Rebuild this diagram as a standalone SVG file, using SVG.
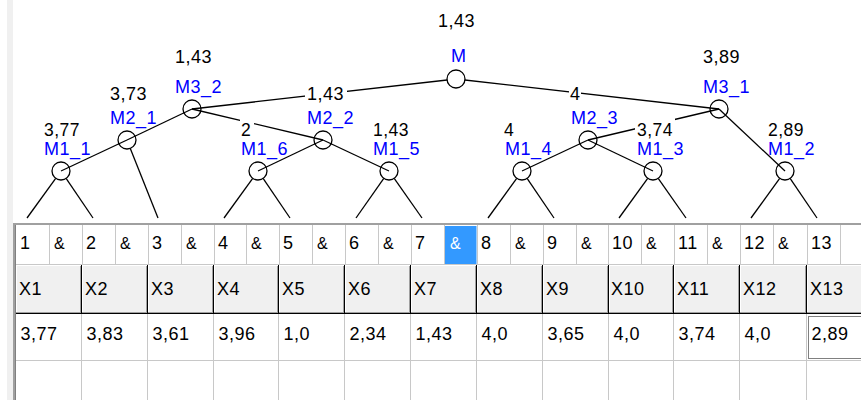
<svg xmlns="http://www.w3.org/2000/svg" width="861" height="400" viewBox="0 0 861 400">
  <style>
    .t { font-family: "Liberation Sans", Arial, sans-serif; font-size: 18px; letter-spacing: 0.5px; fill: #000; }
    .v1 { font-size: 17.5px; }
    .n { fill: #0000ff; }
    .amp { font-size: 16px; }
    .e { stroke: #000; stroke-width: 1.3; fill: none; }
    .c { stroke: #000; stroke-width: 1.3; fill: none; }
    .g { stroke: #c8c8c8; stroke-width: 1; fill: none; }
    .hd { stroke: #000; stroke-width: 1; }
    .hg { stroke: #a0a0a0; stroke-width: 1; }
    .hw { stroke: #fff; stroke-width: 1; }
  </style>
  <rect width="861" height="400" fill="#fff"/>
  <!-- left panel strip -->
  <rect x="7" y="0" width="6" height="400" fill="#f0f0f0"/>

  <!-- tree connectors -->
  <g id="connectors">
    <line class="e" x1="192" y1="109" x2="456" y2="79"/>
    <line class="e" x1="719" y1="109" x2="456" y2="79"/>
    <line class="e" x1="192" y1="109" x2="127" y2="140"/>
    <line class="e" x1="192" y1="109" x2="323" y2="140"/>
    <line class="e" x1="127" y1="140" x2="61" y2="171"/>
    <line class="e" x1="323" y1="140" x2="258" y2="171"/>
    <line class="e" x1="323" y1="140" x2="389" y2="171"/>
    <line class="e" x1="719" y1="109" x2="588" y2="140"/>
    <line class="e" x1="719" y1="109" x2="785" y2="171"/>
    <line class="e" x1="588" y1="140" x2="522" y2="171"/>
    <line class="e" x1="588" y1="140" x2="653" y2="171"/>
    <!-- leaf branches -->
    <line class="e" x1="55.7" y1="178.3" x2="27" y2="218"/>
    <line class="e" x1="66.1" y1="178.4" x2="93" y2="218"/>
    <line class="e" x1="130.3" y1="148.4" x2="158" y2="218"/>
    <line class="e" x1="252.7" y1="178.3" x2="224" y2="218"/>
    <line class="e" x1="263.1" y1="178.4" x2="290" y2="218"/>
    <line class="e" x1="383.8" y1="178.4" x2="356" y2="218"/>
    <line class="e" x1="394.2" y1="178.4" x2="422" y2="218"/>
    <line class="e" x1="516.7" y1="178.3" x2="488" y2="218"/>
    <line class="e" x1="527.1" y1="178.4" x2="554" y2="218"/>
    <line class="e" x1="647.7" y1="178.3" x2="619" y2="218"/>
    <line class="e" x1="658.2" y1="178.4" x2="686" y2="218"/>
    <line class="e" x1="779.7" y1="178.3" x2="751" y2="218"/>
    <line class="e" x1="790.1" y1="178.4" x2="817" y2="218"/>
  </g>

  <!-- tree nodes -->
  <g id="M">
    <circle cx="456" cy="79" r="9" fill="#fff" stroke="#000" stroke-width="1.3"/>
    <text class="t" x="438" y="27">1,43</text>
    <text class="t n" x="451" y="62">M</text>
  </g>
  <g id="M3_2">
    <circle class="c" cx="192" cy="109" r="9"/>
    <text class="t" x="175" y="63">1,43</text>
    <text class="t n" x="175" y="93">M3_2</text>
  </g>
  <g id="M3_1">
    <circle class="c" cx="719" cy="109" r="9"/>
    <text class="t" x="703" y="63">3,89</text>
    <text class="t n" x="703" y="93">M3_1</text>
  </g>
  <g id="M2_1">
    <circle class="c" cx="127" cy="140" r="9"/>
    <text class="t" x="110" y="100">3,73</text>
    <text class="t n" x="110" y="124">M2_1</text>
  </g>
  <g id="M2_2">
    <circle class="c" cx="323" cy="140" r="9"/>
    <rect x="305" y="84" width="42" height="18" fill="#fff"/>
    <text class="t" x="307" y="100">1,43</text>
    <text class="t n" x="307" y="124">M2_2</text>
  </g>
  <g id="M2_3">
    <circle class="c" cx="588" cy="140" r="9"/>
    <rect x="569" y="84" width="12" height="18" fill="#fff"/>
    <text class="t" x="570" y="100">4</text>
    <text class="t n" x="571" y="124">M2_3</text>
  </g>
  <g id="M1_1">
    <circle class="c" cx="61" cy="171" r="9"/>
    <text class="t v1" x="44" y="136">3,77</text>
    <text class="t n" x="44" y="155">M1_1</text>
  </g>
  <g id="M1_6">
    <circle class="c" cx="258" cy="171" r="9"/>
    <rect x="240" y="119" width="14" height="19" fill="#fff"/>
    <text class="t v1" x="241" y="136">2</text>
    <text class="t n" x="241" y="155">M1_6</text>
  </g>
  <g id="M1_5">
    <circle class="c" cx="389" cy="171" r="9"/>
    <text class="t v1" x="373" y="136">1,43</text>
    <text class="t n" x="373" y="155">M1_5</text>
  </g>
  <g id="M1_4">
    <circle class="c" cx="522" cy="171" r="9"/>
    <text class="t v1" x="504" y="136">4</text>
    <text class="t n" x="505" y="155">M1_4</text>
  </g>
  <g id="M1_3">
    <circle class="c" cx="653" cy="171" r="9"/>
    <rect x="635" y="118" width="40" height="20" fill="#fff"/>
    <text class="t v1" x="637" y="136">3,74</text>
    <text class="t n" x="637" y="155">M1_3</text>
  </g>
  <g id="M1_2">
    <circle class="c" cx="785" cy="171" r="9"/>
    <text class="t v1" x="768" y="136">2,89</text>
    <text class="t n" x="768" y="155">M1_2</text>
  </g>

  <!-- grid frame -->
  <g id="grid">
    <line x1="13" y1="224" x2="861" y2="224" stroke="#a0a0a0" stroke-width="2"/>
    <line x1="14" y1="224" x2="14" y2="400" stroke="#a0a0a0" stroke-width="2"/>
    <line x1="15.5" y1="225" x2="15.5" y2="400" stroke="#808080" stroke-width="1"/>

    <!-- row 1: numbers and ampersands -->
    <rect x="445" y="226" width="31.5" height="38" fill="#3399ff"/>
    <g class="g">
      <line x1="16" y1="264.5" x2="861" y2="264.5"/>
      <line x1="49.5" y1="225" x2="49.5" y2="264"/>
      <line x1="82.5" y1="225" x2="82.5" y2="264"/>
      <line x1="115.5" y1="225" x2="115.5" y2="264"/>
      <line x1="148.5" y1="225" x2="148.5" y2="264"/>
      <line x1="181.5" y1="225" x2="181.5" y2="264"/>
      <line x1="214.5" y1="225" x2="214.5" y2="264"/>
      <line x1="246.5" y1="225" x2="246.5" y2="264"/>
      <line x1="279.5" y1="225" x2="279.5" y2="264"/>
      <line x1="312.5" y1="225" x2="312.5" y2="264"/>
      <line x1="345.5" y1="225" x2="345.5" y2="264"/>
      <line x1="378.5" y1="225" x2="378.5" y2="264"/>
      <line x1="411.5" y1="225" x2="411.5" y2="264"/>
      <line x1="444.5" y1="225" x2="444.5" y2="264"/>
      <line x1="477.5" y1="225" x2="477.5" y2="264"/>
      <line x1="510.5" y1="225" x2="510.5" y2="264"/>
      <line x1="543.5" y1="225" x2="543.5" y2="264"/>
      <line x1="576.5" y1="225" x2="576.5" y2="264"/>
      <line x1="608.5" y1="225" x2="608.5" y2="264"/>
      <line x1="641.5" y1="225" x2="641.5" y2="264"/>
      <line x1="674.5" y1="225" x2="674.5" y2="264"/>
      <line x1="707.5" y1="225" x2="707.5" y2="264"/>
      <line x1="740.5" y1="225" x2="740.5" y2="264"/>
      <line x1="773.5" y1="225" x2="773.5" y2="264"/>
      <line x1="807.5" y1="225" x2="807.5" y2="264"/>
      <line x1="840.5" y1="225" x2="840.5" y2="264"/>
    </g>
    <g class="t">
      <text x="20" y="249">1</text>
      <text x="86" y="249">2</text>
      <text x="152" y="249">3</text>
      <text x="218" y="249">4</text>
      <text x="283" y="249">5</text>
      <text x="349" y="249">6</text>
      <text x="415" y="249">7</text>
      <text x="481" y="249">8</text>
      <text x="547" y="249">9</text>
      <text x="612" y="249">10</text>
      <text x="678" y="249">11</text>
      <text x="744" y="249">12</text>
      <text x="811" y="249">13</text>
    </g>
    <g class="t amp">
      <text x="54" y="249">&amp;</text>
      <text x="120" y="249">&amp;</text>
      <text x="186" y="249">&amp;</text>
      <text x="251" y="249">&amp;</text>
      <text x="317" y="249">&amp;</text>
      <text x="383" y="249">&amp;</text>
      <text x="450" y="249" fill="#fff">&amp;</text>
      <text x="515" y="249">&amp;</text>
      <text x="581" y="249">&amp;</text>
      <text x="646" y="249">&amp;</text>
      <text x="712" y="249">&amp;</text>
      <text x="778" y="249">&amp;</text>
    </g>

    <!-- row 2: column headers -->
    <rect x="16" y="265" width="845" height="49" fill="#f0f0f0"/>
    <line class="hw" x1="16" y1="265.5" x2="861" y2="265.5"/>
    <line class="hg" x1="16" y1="312.5" x2="861" y2="312.5"/>
    <line class="hd" x1="16" y1="313.5" x2="861" y2="313.5"/>
    <g class="hw">
      <line x1="16.5" y1="266" x2="16.5" y2="312"/>
      <line x1="82.5" y1="266" x2="82.5" y2="312"/>
      <line x1="148.5" y1="266" x2="148.5" y2="312"/>
      <line x1="214.5" y1="266" x2="214.5" y2="312"/>
      <line x1="279.5" y1="266" x2="279.5" y2="312"/>
      <line x1="345.5" y1="266" x2="345.5" y2="312"/>
      <line x1="411.5" y1="266" x2="411.5" y2="312"/>
      <line x1="477.5" y1="266" x2="477.5" y2="312"/>
      <line x1="543.5" y1="266" x2="543.5" y2="312"/>
      <line x1="609.5" y1="266" x2="609.5" y2="312"/>
      <line x1="674.5" y1="266" x2="674.5" y2="312"/>
      <line x1="740.5" y1="266" x2="740.5" y2="312"/>
      <line x1="807.5" y1="266" x2="807.5" y2="312"/>
    </g>
    <g class="hg">
      <line x1="80.5" y1="266" x2="80.5" y2="313"/>
      <line x1="146.5" y1="266" x2="146.5" y2="313"/>
      <line x1="212.5" y1="266" x2="212.5" y2="313"/>
      <line x1="277.5" y1="266" x2="277.5" y2="313"/>
      <line x1="343.5" y1="266" x2="343.5" y2="313"/>
      <line x1="409.5" y1="266" x2="409.5" y2="313"/>
      <line x1="475.5" y1="266" x2="475.5" y2="313"/>
      <line x1="541.5" y1="266" x2="541.5" y2="313"/>
      <line x1="607.5" y1="266" x2="607.5" y2="313"/>
      <line x1="672.5" y1="266" x2="672.5" y2="313"/>
      <line x1="738.5" y1="266" x2="738.5" y2="313"/>
      <line x1="805.5" y1="266" x2="805.5" y2="313"/>
    </g>
    <g class="hd">
      <line x1="81.5" y1="265" x2="81.5" y2="314"/>
      <line x1="147.5" y1="265" x2="147.5" y2="314"/>
      <line x1="213.5" y1="265" x2="213.5" y2="314"/>
      <line x1="278.5" y1="265" x2="278.5" y2="314"/>
      <line x1="344.5" y1="265" x2="344.5" y2="314"/>
      <line x1="410.5" y1="265" x2="410.5" y2="314"/>
      <line x1="476.5" y1="265" x2="476.5" y2="314"/>
      <line x1="542.5" y1="265" x2="542.5" y2="314"/>
      <line x1="608.5" y1="265" x2="608.5" y2="314"/>
      <line x1="673.5" y1="265" x2="673.5" y2="314"/>
      <line x1="739.5" y1="265" x2="739.5" y2="314"/>
      <line x1="806.5" y1="265" x2="806.5" y2="314"/>
    </g>
    <g class="t">
      <text x="19" y="295">X1</text>
      <text x="85" y="295">X2</text>
      <text x="151" y="295">X3</text>
      <text x="217" y="295">X4</text>
      <text x="282" y="295">X5</text>
      <text x="348" y="295">X6</text>
      <text x="414" y="295">X7</text>
      <text x="480" y="295">X8</text>
      <text x="546" y="295">X9</text>
      <text x="611" y="295">X10</text>
      <text x="677" y="295">X11</text>
      <text x="743" y="295">X12</text>
      <text x="810" y="295">X13</text>
    </g>

    <!-- rows 3-4: values -->
    <g class="g">
      <line x1="16" y1="360.5" x2="861" y2="360.5"/>
      <line x1="81.5" y1="314" x2="81.5" y2="400"/>
      <line x1="147.5" y1="314" x2="147.5" y2="400"/>
      <line x1="213.5" y1="314" x2="213.5" y2="400"/>
      <line x1="278.5" y1="314" x2="278.5" y2="400"/>
      <line x1="344.5" y1="314" x2="344.5" y2="400"/>
      <line x1="410.5" y1="314" x2="410.5" y2="400"/>
      <line x1="476.5" y1="314" x2="476.5" y2="400"/>
      <line x1="542.5" y1="314" x2="542.5" y2="400"/>
      <line x1="608.5" y1="314" x2="608.5" y2="400"/>
      <line x1="673.5" y1="314" x2="673.5" y2="400"/>
      <line x1="739.5" y1="314" x2="739.5" y2="400"/>
      <line x1="806.5" y1="314" x2="806.5" y2="400"/>
    </g>
    <g class="t">
      <text x="20.5" y="340">3,77</text>
      <text x="86.5" y="340">3,83</text>
      <text x="152.5" y="340">3,61</text>
      <text x="218.5" y="340">3,96</text>
      <text x="283.5" y="340">1,0</text>
      <text x="349.5" y="340">2,34</text>
      <text x="415.5" y="340">1,43</text>
      <text x="481.5" y="340">4,0</text>
      <text x="547.5" y="340">3,65</text>
      <text x="613.5" y="340">4,0</text>
      <text x="678.5" y="340">3,74</text>
      <text x="744.5" y="340">4,0</text>
      <text x="811.5" y="340">2,89</text>
    </g>
    <!-- focus rectangle on the selected cell -->
    <rect x="808.5" y="316.5" width="60" height="42" fill="none" stroke="#000" stroke-width="1" stroke-dasharray="1,1"/>
  </g>
</svg>
